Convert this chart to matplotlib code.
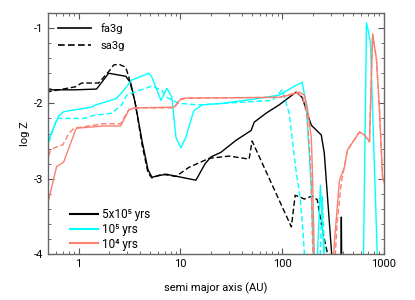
import numpy as np
import matplotlib
matplotlib.use("Agg")
import matplotlib.pyplot as plt
from matplotlib.lines import Line2D
from matplotlib.ticker import MultipleLocator, LogLocator, NullFormatter

plt.rcParams["font.family"] = ["Roboto", "DejaVu Sans"]
plt.rcParams["font.size"] = 8

# ---------- 5x10^5 yrs (black) ----------
fa_5e5_x = [0.48, 0.93, 1.50, 1.97, 2.9, 3.25, 3.6, 4.2, 4.8, 5.24, 7.2, 14.2, 17.5, 20.0,
            25.0, 35.2, 49.5, 53.0, 69.5, 93.3, 137, 157, 193, 207, 242, 259, 310]
fa_5e5_y = [-1.82, -1.82, -1.81, -1.60, -1.64, -1.73, -2.0, -2.5, -2.88, -2.98, -2.94, -3.02, -2.80, -2.71,
            -2.65, -2.49, -2.36, -2.25, -2.13, -2.02, -1.85, -1.92, -2.29, -2.33, -2.42, -2.66, -4.1]
spike_5e5_x = [378, 381, 384]
spike_5e5_y = [-4.1, -3.51, -4.1]

sa_5e5_x = [0.48, 0.93, 1.07, 1.57, 1.97, 2.21, 2.48, 2.9, 3.11, 3.6, 4.2, 4.8, 5.24, 6.57, 9.03,
            12.1, 19.1, 30.0, 47.3, 50.6, 123, 134, 147, 165, 198, 221, 248, 278, 290]
sa_5e5_y = [-1.85, -1.78, -1.73, -1.73, -1.58, -1.49, -1.48, -1.52, -1.65, -2.0, -2.55, -2.92, -2.99, -2.94, -2.97,
            -2.85, -2.73, -2.70, -2.74, -2.50, -3.64, -3.22, -3.24, -3.27, -3.23, -3.28, -3.68, -3.99, -4.1]

# ---------- 10^5 yrs (cyan) ----------
fa_1e5_x = [0.484, 0.53, 0.635, 0.712, 1.34, 1.47, 2.31, 2.65, 3.33, 4.89, 5.24, 6.43, 7.36, 8.24, 9.03,
            10.1, 11.3, 12.5, 13.5, 16.3, 25.6, 55.4, 93.3, 137, 157, 172, 180, 193, 202, 207,
            221, 237, 259, 628, 673, 704, 736, 863]
fa_1e5_y = [-2.55, -2.42, -2.17, -2.11, -2.05, -2.02, -1.94, -1.86, -1.69, -1.60, -1.65, -1.96, -1.80, -1.92, -2.45,
            -2.59, -2.45, -2.25, -2.10, -2.02, -2.0, -1.94, -1.89, -1.76, -1.72, -2.0, -2.45, -3.11, -3.99, -4.1,
            -4.1, -3.09, -4.1, -4.1, -0.93, -1.05, -1.20, -4.1]

sa_1e5_x = [0.484, 0.53, 0.61, 1.12, 1.41, 2.11, 2.65, 2.97, 3.90, 5.24, 6.57, 7.36, 9.67, 15.2,
            79.7, 100, 117, 137, 150, 160, 167, 235, 248, 262]
sa_1e5_y = [-2.62, -2.45, -2.20, -2.20, -2.16, -2.13, -2.02, -1.89, -1.83, -1.77, -1.83, -1.92, -2.0, -2.02,
            -1.96, -1.82, -2.13, -2.90, -3.25, -3.70, -4.1, -4.1, -3.24, -4.1]

# ---------- 10^4 yrs (salmon) ----------
fa_1e4_x = [0.484, 0.607, 0.712, 0.834, 0.934, 0.956, 1.76, 2.59, 3.11, 3.48, 8.63, 10.1, 11.3, 93.3,
            117, 147, 165, 176, 193, 198, 207, 318, 325, 365, 408, 437, 574, 643, 720, 773, 844,
            903, 967, 1012]
fa_1e4_y = [-3.40, -2.84, -2.78, -2.53, -2.35, -2.33, -2.30, -2.30, -2.09, -2.06, -2.05, -1.94, -1.93, -1.92,
            -1.89, -1.85, -1.89, -2.05, -2.45, -2.89, -4.1, -4.1, -3.86, -3.02, -2.85, -2.62, -2.38, -2.42, -2.51, -1.08, -1.42,
            -2.09, -2.98, -3.06]

sa_1e4_x = [0.484, 0.53, 0.60, 0.70, 0.80, 0.90, 1.76, 2.59, 3.11, 4.08, 8.63, 10.1, 11.3, 93.3,
            137, 160, 176, 190, 200, 203, 330, 345, 381, 420, 437, 574, 643, 720, 773, 844,
            903, 967, 1012]
sa_1e4_y = [-2.80, -2.62, -2.58, -2.55, -2.40, -2.33, -2.27, -2.27, -2.08, -2.06, -2.06, -1.95, -1.93, -1.92,
            -1.86, -1.92, -2.20, -2.80, -4.0, -4.1, -4.1, -3.6, -3.05, -2.75, -2.62, -2.38, -2.42, -2.51, -1.08, -1.42,
            -2.09, -2.98, -3.06]

age_labels = ["5x10\u2075 yrs", "10\u2075 yrs", "10\u2074 yrs"]
model_labels = ["fa3g", "sa3g"]

BLACK, CYAN, SALMON = "black", "#00ffff", "#fa8072"
LW = 1.0
DASH = (4, 2)

fig = plt.figure(figsize=(4.15, 3.0), dpi=100)
ax = fig.add_axes([48 / 415, 1 - 254 / 300, 336 / 415, 241 / 300])

ax.plot(fa_5e5_x, fa_5e5_y, color=BLACK, lw=LW)
ax.plot(spike_5e5_x, spike_5e5_y, color=BLACK, lw=LW)
ax.plot(sa_5e5_x, sa_5e5_y, color=BLACK, lw=LW, dashes=DASH)
ax.plot(fa_1e5_x, fa_1e5_y, color=CYAN, lw=LW)
ax.plot(sa_1e5_x, sa_1e5_y, color=CYAN, lw=LW, dashes=DASH)
ax.plot(fa_1e4_x, fa_1e4_y, color=SALMON, lw=LW)
ax.plot(sa_1e4_x, sa_1e4_y, color=SALMON, lw=LW, dashes=DASH)

ax.set_xscale("log")
ax.set_xlim(0.5, 1000)
ax.set_ylim(-4, -0.8)
ax.set_xticks([1, 10, 100, 1000])
ax.set_xticklabels(["1", "10", "100", "1000"])
ax.xaxis.set_minor_locator(LogLocator(base=10, subs=np.arange(2, 10)))
ax.xaxis.set_minor_formatter(NullFormatter())
ax.set_yticks([-1, -2, -3, -4])
ax.set_yticklabels(["-1", "-2", "-3", "-4"])
ax.yaxis.set_minor_locator(MultipleLocator(0.2))
ax.tick_params(which="both", direction="in", top=True, right=True, color="#555555")
ax.tick_params(which="major", length=4, width=0.8)
ax.tick_params(which="minor", length=2, width=0.6)
for s in ax.spines.values():
    s.set_color("#666666")
    s.set_linewidth(1.0)

ax.set_xlabel("semi major axis (AU)", labelpad=10)
ax.set_ylabel("log Z", labelpad=3)

h1 = [Line2D([], [], color=BLACK, lw=1.2), Line2D([], [], color=BLACK, lw=1.2, dashes=DASH)]
leg1 = ax.legend(h1, model_labels, loc="upper left", bbox_to_anchor=(0.0, 1.0),
                 frameon=False, handlelength=3.0, labelspacing=0.6, handletextpad=0.8)
ax.add_artist(leg1)
h2 = [Line2D([], [], color=c, lw=1.5) for c in (BLACK, CYAN, SALMON)]
ax.legend(h2, age_labels, loc="lower left", prop={"size": 8.5},
          bbox_to_anchor=(0.035, -0.03), frameon=False, handlelength=2.3, labelspacing=0.15,
          handletextpad=0.4)

fig.savefig("out.png", dpi=100)
